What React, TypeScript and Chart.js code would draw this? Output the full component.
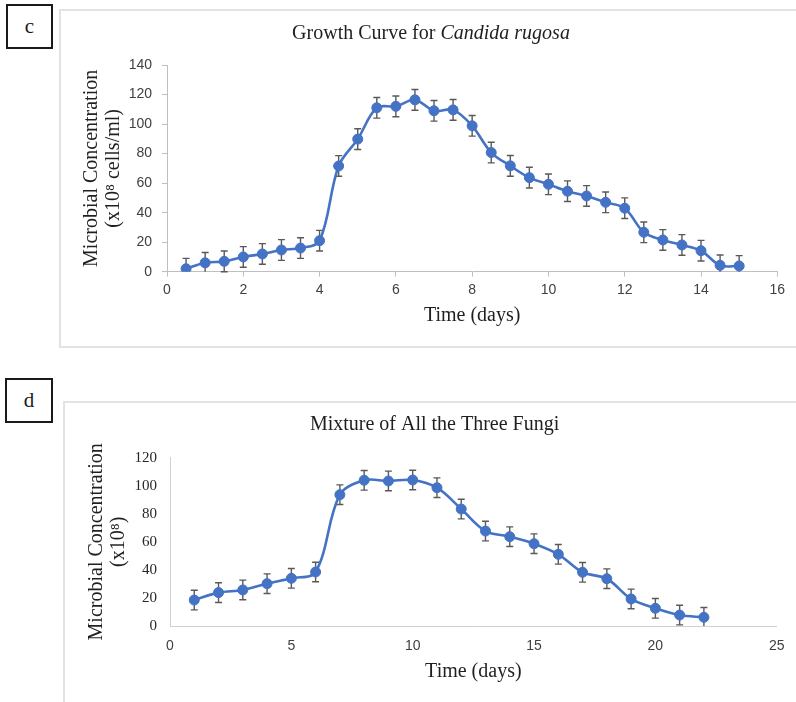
import React, { useEffect, useRef } from "react";
import { Chart, registerables } from "chart.js";

Chart.register(...registerables);

// ---------- Data: panel c (Candida rugosa) ----------
const daysC = [0.5, 1, 1.5, 2, 2.5, 3, 3.5, 4, 4.5, 5, 5.5, 6, 6.5, 7, 7.5, 8, 8.5, 9, 9.5, 10, 10.5, 11, 11.5, 12, 12.5, 13, 13.5, 14, 14.5, 15];
const valuesC = [2, 6, 7, 10, 12, 14.7, 16, 21, 71.6, 89.8, 111, 112, 116.4, 109, 109.6, 98.8, 80.7, 71.7, 63.7, 59.2, 54.5, 51.3, 47, 43, 26.7, 21.5, 18.1, 14.2, 4.3, 3.9];
const errC = [7, 7, 7, 7, 7, 7, 7, 7, 7, 7, 7, 7, 7, 7, 7, 7, 7, 7, 7, 7, 7, 7, 7, 7, 7, 7, 7, 7, 7, 7];
const yTicksC = [0, 20, 40, 60, 80, 100, 120, 140];
const xTicksC = [0, 2, 4, 6, 8, 10, 12, 14, 16];

// ---------- Data: panel d (mixture) ----------
const daysD = [1, 2, 3, 4, 5, 6, 7, 8, 9, 10, 11, 12, 13, 14, 15, 16, 17, 18, 19, 20, 21, 22];
const valuesD = [18.5, 23.8, 25.7, 30.2, 34, 38.5, 93.6, 103.9, 103.4, 104.1, 98.6, 83.4, 67.7, 63.7, 58.7, 51.1, 38.3, 33.7, 19.3, 12.6, 7.8, 6.2];
const errD = [7, 7, 7, 7, 7, 7, 7, 7, 7, 7, 7, 7, 7, 7, 7, 7, 7, 7, 7, 7, 7, 7];
const yTicksD = [0, 20, 40, 60, 80, 100, 120];
const xTicksD = [0, 5, 10, 15, 20, 25];

const BLUE = "#4472C4";
const SERIF = "'Liberation Serif', 'Times New Roman', serif";
const SANS = "'Liberation Sans', Arial, sans-serif";

const errorBarsPlugin = {
  id: "errorBars",
  beforeDatasetsDraw(chart: any, _args: any, opts: any) {
    const errs: number[] = opts.errors || [];
    const xs = chart.scales.x;
    const ys = chart.scales.y;
    const data = chart.data.datasets[0].data as { x: number; y: number }[];
    const ctx = chart.ctx;
    ctx.save();
    ctx.strokeStyle = "#595959";
    ctx.lineWidth = 1.4;
    data.forEach((p, i) => {
      const e = errs[i] ?? 0;
      const px = xs.getPixelForValue(p.x);
      const top = ys.getPixelForValue(p.y + e);
      const bot = ys.getPixelForValue(Math.max(p.y - e, ys.min));
      ctx.beginPath();
      ctx.moveTo(px, top);
      ctx.lineTo(px, bot);
      ctx.moveTo(px - 3.5, top);
      ctx.lineTo(px + 3.5, top);
      if (p.y - e >= ys.min) {
        ctx.moveTo(px - 3.5, bot);
        ctx.lineTo(px + 3.5, bot);
      }
      ctx.stroke();
    });
    ctx.restore();
  },
};

const titlePlugin = {
  id: "mixedTitle",
  afterDraw(chart: any, _args: any, opts: any) {
    const parts: { text: string; italic?: boolean }[] = opts.parts || [];
    const ctx = chart.ctx;
    ctx.save();
    ctx.fillStyle = "#1f1f1f";
    ctx.textBaseline = "middle";
    ctx.textAlign = "left";
    const fontFor = (it?: boolean) => `${it ? "italic " : ""}${opts.size}px ${SERIF}`;
    let total = 0;
    parts.forEach((p) => {
      ctx.font = fontFor(p.italic);
      total += ctx.measureText(p.text).width;
    });
    let x = opts.cx - total / 2;
    parts.forEach((p) => {
      ctx.font = fontFor(p.italic);
      ctx.fillText(p.text, x, opts.cy);
      x += ctx.measureText(p.text).width;
    });
    ctx.restore();
  },
};

interface PanelCfg {
  width: number;
  height: number;
  xs: number[];
  ys: number[];
  errs: number[];
  xTicks: number[];
  yTicks: number[];
  chartLeft: number;
  chartTop: number;
  chartRight: number;
  chartBottom: number;
  yTitle: string[];
  yTitlePad: number;
  xTitlePad: number;
  titleParts: { text: string; italic?: boolean }[];
  titleCx: number;
  titleCy: number;
  showTicks: boolean;
  yTickFont: string;
  yTickColor: string;
  yTickPad: number;
  xTickPad: number;
  axisColor: string;
}

function LineChart({ cfg }: { cfg: PanelCfg }) {
  const ref = useRef<HTMLCanvasElement | null>(null);
  useEffect(() => {
    if (!ref.current) return;
    const points = cfg.xs.map((x, i) => ({ x, y: cfg.ys[i] }));
    const xMin = cfg.xTicks[0];
    const xMax = cfg.xTicks[cfg.xTicks.length - 1];
    const yMin = cfg.yTicks[0];
    const yMax = cfg.yTicks[cfg.yTicks.length - 1];
    const chart = new Chart(ref.current, {
      type: "line",
      data: {
        datasets: [
          {
            data: points,
            borderColor: BLUE,
            backgroundColor: BLUE,
            borderWidth: 2.6,
            pointRadius: 5,
            pointBorderWidth: 1,
            pointBorderColor: BLUE,
            pointBackgroundColor: BLUE,
            tension: 0.35,
            fill: false,
          },
        ],
      },
      options: {
        responsive: false,
        animation: false,
        devicePixelRatio: 1,
        layout: {
          padding: {
            left: 0,
            top: cfg.chartTop,
            right: cfg.width - cfg.chartRight,
            bottom: 0,
          },
        },
        plugins: {
          legend: { display: false },
          tooltip: { enabled: false },
          title: { display: false },
          errorBars: { errors: cfg.errs },
          mixedTitle: { parts: cfg.titleParts, cx: cfg.titleCx, cy: cfg.titleCy, size: 20 },
        } as any,
        scales: {
          x: {
            type: "linear",
            min: xMin,
            max: xMax,
            afterFit: (s: any) => {
              s.height = cfg.height - cfg.chartBottom;
            },
            afterBuildTicks: (s: any) => {
              s.ticks = cfg.xTicks.map((v) => ({ value: v }));
            },
            ticks: {
              font: { family: SANS, size: 14 },
              color: "#404040",
              padding: cfg.xTickPad,
              maxRotation: 0,
              autoSkip: false,
            },
            grid: {
              display: cfg.showTicks,
              drawOnChartArea: false,
              drawTicks: cfg.showTicks,
              tickLength: 5,
              color: cfg.axisColor,
            },
            border: { display: true, color: cfg.axisColor, width: 1 },
            title: {
              display: true,
              text: "Time (days)",
              font: { family: SERIF, size: 20, lineHeight: "22px" as any },
              color: "#1f1f1f",
              padding: { top: 0, bottom: cfg.xTitlePad },
            },
          },
          y: {
            type: "linear",
            min: yMin,
            max: yMax,
            afterFit: (s: any) => {
              s.width = cfg.chartLeft;
            },
            afterBuildTicks: (s: any) => {
              s.ticks = cfg.yTicks.map((v) => ({ value: v }));
            },
            ticks: {
              font: { family: cfg.yTickFont, size: cfg.yTickFont === SERIF ? 15 : 14 },
              color: cfg.yTickColor,
              padding: cfg.yTickPad,
              autoSkip: false,
            },
            grid: {
              display: cfg.showTicks,
              drawOnChartArea: false,
              drawTicks: cfg.showTicks,
              tickLength: 5,
              color: cfg.axisColor,
            },
            border: { display: true, color: cfg.axisColor, width: 1 },
            title: {
              display: true,
              text: cfg.yTitle,
              font: { family: SERIF, size: 20, lineHeight: "22px" as any },
              color: "#1f1f1f",
              padding: { top: cfg.yTitlePad, bottom: 0 },
            },
          },
        },
      },
      plugins: [errorBarsPlugin, titlePlugin],
    });
    return () => chart.destroy();
  }, [cfg]);
  return <canvas ref={ref} width={cfg.width} height={cfg.height} style={{ width: cfg.width, height: cfg.height, display: "block" }} />;
}

const cfgC: PanelCfg = {
  width: 737,
  height: 338,
  xs: daysC,
  ys: valuesC,
  errs: errC,
  xTicks: xTicksC,
  yTicks: yTicksC,
  chartLeft: 108,
  chartTop: 56,
  chartRight: 718.3,
  chartBottom: 262.7,
  yTitle: ["Microbial Concentration", "(x10\u2078 cells/ml)"],
  yTitlePad: 22,
  xTitlePad: 20,
  titleParts: [{ text: "Growth Curve for " }, { text: "Candida rugosa", italic: true }],
  titleCx: 372,
  titleCy: 25,
  showTicks: true,
  yTickFont: SANS,
  yTickColor: "#404040",
  yTickPad: 10,
  xTickPad: 5,
  axisColor: "#bfbfbf",
};

const cfgD: PanelCfg = {
  width: 733,
  height: 301,
  xs: daysD,
  ys: valuesD,
  errs: errD,
  xTicks: xTicksD,
  yTicks: yTicksD,
  chartLeft: 107,
  chartTop: 56.7,
  chartRight: 716.3,
  chartBottom: 225,
  yTitle: ["Microbial Concentration", "(x10\u2078)"],
  yTitlePad: 22.7,
  xTitlePad: 19,
  titleParts: [{ text: "Mixture of All the Three Fungi" }],
  titleCx: 371.6,
  titleCy: 24,
  showTicks: false,
  yTickFont: SERIF,
  yTickColor: "#262626",
  yTickPad: 13,
  xTickPad: 11.5,
  axisColor: "#d0d0d0",
};

const labelBox = (text: string, left: number, top: number, w: number, h: number) => (
  <div
    style={{
      position: "absolute",
      left,
      top,
      width: w,
      height: h,
      boxSizing: "border-box",
      border: "2px solid #1a1a1a",
      display: "flex",
      alignItems: "center",
      justifyContent: "center",
      fontFamily: SERIF,
      fontSize: 21,
      color: "#1a1a1a",
      background: "#fff",
    }}
  >
    {text}
  </div>
);

export default function App() {
  return (
    <div
      style={{
        position: "fixed",
        left: 0,
        top: 0,
        width: 796,
        height: 702,
        overflow: "hidden",
        background: "#ffffff",
      }}
    >
      {labelBox("c", 6, 4, 47, 45)}
      <div
        style={{
          position: "absolute",
          left: 59,
          top: 9,
          width: 800,
          height: 339,
          boxSizing: "border-box",
          border: "2px solid #e3e3e3",
        }}
      />
      <div style={{ position: "absolute", left: 59, top: 9 }}>
        <LineChart cfg={cfgC} />
      </div>

      {labelBox("d", 5, 378, 48, 45)}
      <div
        style={{
          position: "absolute",
          left: 63,
          top: 401,
          width: 800,
          height: 400,
          boxSizing: "border-box",
          border: "2px solid #e3e3e3",
        }}
      />
      <div style={{ position: "absolute", left: 63, top: 401 }}>
        <LineChart cfg={cfgD} />
      </div>
    </div>
  );
}
